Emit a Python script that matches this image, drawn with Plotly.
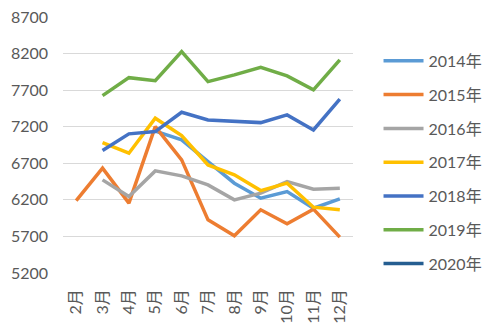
import plotly.graph_objects as go

months = ["2月", "3月", "4月", "5月", "6月", "7月", "8月", "9月", "10月", "11月", "12月"]
years = ["2014年", "2015年", "2016年", "2017年", "2018年", "2019年", "2020年"]

v2014 = [None, None, None, 7140, 7020, 6723, 6428, 6223, 6314, 6086, 6214]
v2015 = [6191, 6633, 6155, 7201, 6747, 5927, 5708, 6064, 5872, 6073, 5690]
v2016 = [None, 6473, 6245, 6596, 6528, 6405, 6200, 6292, 6450, 6346, 6360]
v2017 = [None, 6983, 6838, 7316, 7080, 6678, 6542, 6327, 6428, 6100, 6064]
v2018 = [None, 6874, 7102, 7133, 7398, 7293, 7270, 7256, 7361, 7156, 7576]
v2019 = [None, 7625, 7871, 7830, 8226, 7816, 7908, 8013, 7894, 7703, 8113]
v2020 = [None] * 11

colors = ["#5B9BD5", "#ED7D31", "#A5A5A5", "#FFC000", "#4472C4", "#70AD47", "#255E91"]
series = [v2014, v2015, v2016, v2017, v2018, v2019, v2020]

fig = go.Figure()
for name, vals, c in zip(years, series, colors):
    fig.add_trace(go.Scatter(
        x=months, y=vals, name=name, mode="lines",
        line=dict(color=c, width=3.5),
        legendgroup=name,
        connectgaps=False,
    ))

font_family = "Lato, Noto Sans CJK SC, sans-serif"
fig.update_layout(
    width=499, height=329,
    margin=dict(l=63, r=146, t=17, b=56),
    plot_bgcolor="white", paper_bgcolor="white",
    font=dict(family=font_family, size=14, color="#595959"),
    showlegend=True,
    legend=dict(
        x=1.088, y=0.895, xanchor="left", yanchor="top",
        tracegroupgap=10, font=dict(size=16, color="#595959"),
        itemwidth=40, bgcolor="rgba(0,0,0,0)",
    ),
    xaxis=dict(
        type="category", categoryorder="array", categoryarray=months,
        range=[-0.5, 10.5], automargin=False,
        tickangle=-90, showgrid=False, showline=False, ticks="",
        ticklabelstandoff=12,
        tickfont=dict(size=16, color="#595959"),
    ),
    yaxis=dict(
        range=[5200, 8700], tick0=5200, dtick=500, automargin=False,
        showgrid=True, gridcolor="#D9D9D9", gridwidth=1,
        zeroline=False, showline=False, ticks="",
        ticklabelstandoff=14,
        tickfont=dict(size=16, color="#595959"),
    ),
)

fig.write_html("out.html")
